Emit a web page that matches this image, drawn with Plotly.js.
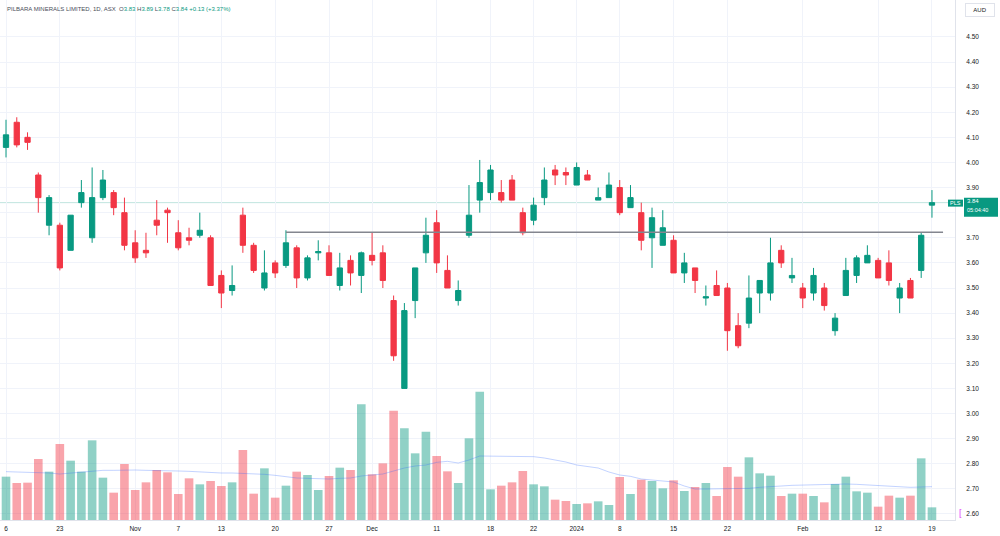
<!DOCTYPE html>
<html>
<head>
<meta charset="utf-8">
<script src="https://cdn.plot.ly/plotly-3.0.1.min.js"></script>
<style>html,body{margin:0;padding:0;background:#fff;}#chart{width:1000px;height:536px;}</style>
</head>
<body>
<div id="chart"></div>
<script>
const dates = ["2023-10-16","2023-10-17","2023-10-18","2023-10-19","2023-10-20","2023-10-23","2023-10-24","2023-10-25","2023-10-26","2023-10-27",
"2023-10-30","2023-10-31","2023-11-01","2023-11-02","2023-11-03","2023-11-06","2023-11-07","2023-11-08","2023-11-09","2023-11-10",
"2023-11-13","2023-11-14","2023-11-15","2023-11-16","2023-11-17","2023-11-20","2023-11-21","2023-11-22","2023-11-23","2023-11-24",
"2023-11-27","2023-11-28","2023-11-29","2023-11-30","2023-12-01","2023-12-04","2023-12-05","2023-12-06","2023-12-07","2023-12-08",
"2023-12-11","2023-12-12","2023-12-13","2023-12-14","2023-12-15","2023-12-18","2023-12-19","2023-12-20","2023-12-21","2023-12-22",
"2023-12-27","2023-12-28","2023-12-29","2024-01-02","2024-01-03","2024-01-04","2024-01-05","2024-01-08","2024-01-09","2024-01-10",
"2024-01-11","2024-01-12","2024-01-15","2024-01-16","2024-01-17","2024-01-18","2024-01-19","2024-01-22","2024-01-23","2024-01-24",
"2024-01-25","2024-01-29","2024-01-30","2024-01-31","2024-02-01","2024-02-02","2024-02-05","2024-02-06","2024-02-07","2024-02-08",
"2024-02-09","2024-02-12","2024-02-13","2024-02-14","2024-02-15","2024-02-16","2024-02-19"];

const openP = [4.06,4.16,4.10,3.95,3.75,3.75,3.65,3.84,3.70,3.86,
3.88,3.80,3.68,3.65,3.77,3.81,3.72,3.70,3.71,3.70,
3.55,3.49,3.79,3.67,3.50,3.60,3.59,3.66,3.54,3.640,
3.64,3.51,3.61,3.55,3.63,3.64,3.45,3.10,3.45,3.64,
3.76,3.57,3.45,3.71,3.85,3.88,3.88,3.93,3.80,3.77,
3.86,3.97,3.96,3.91,3.95,3.85,3.86,3.90,3.82,3.80,
3.70,3.67,3.69,3.56,3.58,3.46,3.51,3.50,3.35,3.36,
3.48,3.48,3.65,3.54,3.50,3.48,3.50,3.33,3.47,3.55,
3.60,3.61,3.60,3.46,3.53,3.57,3.83];
const highP = [4.17,4.18,4.12,3.96,3.87,3.76,3.79,3.93,3.98,3.97,
3.89,3.86,3.73,3.72,3.85,3.82,3.77,3.74,3.80,3.71,
3.57,3.59,3.82,3.68,3.65,3.61,3.73,3.67,3.63,3.69,
3.67,3.64,3.63,3.645,3.72,3.67,3.47,3.44,3.58,3.78,
3.81,3.63,3.53,3.91,4.01,3.99,3.93,3.95,3.82,3.86,
3.98,3.99,3.98,4.00,3.97,3.90,3.96,3.93,3.91,3.84,
3.82,3.81,3.71,3.64,3.58,3.51,3.57,3.52,3.40,3.55,
3.53,3.70,3.67,3.62,3.52,3.58,3.52,3.40,3.62,3.63,
3.67,3.62,3.65,3.52,3.54,3.72,3.89];
const lowP = [4.02,4.06,4.05,3.80,3.71,3.57,3.65,3.82,3.68,3.85,
3.79,3.65,3.60,3.62,3.71,3.68,3.65,3.67,3.70,3.51,
3.42,3.47,3.64,3.56,3.49,3.54,3.58,3.50,3.53,3.61,
3.55,3.49,3.51,3.48,3.59,3.50,3.21,3.10,3.38,3.60,
3.56,3.50,3.43,3.70,3.80,3.85,3.84,3.85,3.71,3.75,
3.83,3.91,3.91,3.91,3.93,3.85,3.86,3.79,3.82,3.65,
3.58,3.67,3.56,3.52,3.48,3.43,3.47,3.25,3.26,3.34,
3.40,3.45,3.58,3.52,3.42,3.45,3.41,3.31,3.47,3.52,
3.60,3.54,3.51,3.40,3.46,3.54,3.78];
const closeP = [4.11,4.07,4.08,3.86,3.86,3.58,3.79,3.88,3.86,3.93,
3.82,3.67,3.62,3.64,3.75,3.80,3.66,3.69,3.73,3.51,
3.48,3.51,3.67,3.57,3.56,3.56,3.68,3.54,3.62,3.645,
3.55,3.58,3.56,3.64,3.61,3.53,3.23,3.41,3.58,3.71,
3.60,3.50,3.49,3.79,3.92,3.97,3.85,3.85,3.72,3.83,
3.93,3.95,3.95,3.98,3.93,3.86,3.91,3.80,3.86,3.69,
3.78,3.74,3.56,3.60,3.53,3.465,3.47,3.33,3.27,3.46,
3.53,3.60,3.60,3.55,3.46,3.55,3.43,3.38,3.57,3.62,
3.63,3.54,3.53,3.50,3.46,3.71,3.84];

// volume, millions of shares (estimated)
const volumeM = [13.0,11.1,11.2,18.3,14.5,22.8,17.8,14.5,23.9,12.7,
8.2,16.8,9.0,11.3,15.0,14.3,7.8,12.5,10.7,11.7,
10.2,11.3,21.0,7.9,15.5,6.7,10.3,14.5,13.5,9.0,
13.2,15.7,15.0,34.7,13.7,17.0,32.8,27.5,20.0,26.5,
19.2,14.6,11.1,24.5,38.5,9.2,10.3,11.3,14.7,10.7,
10.1,6.1,5.7,4.8,5.0,5.6,4.5,12.9,7.8,12.1,
11.7,9.5,11.9,8.7,9.9,11.1,7.2,15.9,13.0,18.8,
14.0,13.3,7.2,7.9,7.9,7.2,5.3,10.8,13.0,8.6,
8.2,4.0,7.3,6.7,7.3,18.5,3.8];
const volumeMA = [14.5,14.4,14.4,14.3,14.1,13.8,14.1,14.4,14.7,14.9,
14.9,15.0,15.0,14.9,14.9,14.7,14.7,14.6,14.4,14.3,
14.1,14.1,14.0,13.8,13.7,13.4,12.9,12.6,12.5,12.3,
12.3,12.5,12.6,13.2,13.5,13.8,14.7,15.6,16.2,16.5,
17.3,17.6,17.1,18.0,19.2,19.2,19.1,19.1,19.1,19.0,
18.6,18.0,17.4,16.5,16.1,15.6,14.4,13.5,13.1,12.3,
12.0,11.6,11.4,10.2,9.3,9.3,9.3,9.3,9.3,9.5,
9.8,10.1,10.2,10.4,10.5,10.5,10.7,10.8,10.8,10.7,
10.5,10.4,10.1,9.9,9.8,9.9,10.0];

const tickDates = ["2023-10-16","2023-10-23","2023-11-01","2023-11-07","2023-11-13","2023-11-20","2023-11-27","2023-12-01","2023-12-11","2023-12-18","2023-12-22","2024-01-02","2024-01-08","2024-01-15","2024-01-22","2024-02-01","2024-02-12","2024-02-19"];
const tickLabels = ["6","23","Nov","7","13","20","27","Dec","11","18","22","2024","8","15","22","Feb","12","19"];

const priceTicks = [2.6,2.7,2.8,2.9,3.0,3.1,3.2,3.3,3.4,3.5,3.6,3.7,3.8,3.9,4.0,4.1,4.2,4.3,4.4,4.5];
const levelPrice = 3.722;
const levelStart = "2023-11-21";
const header = {name: "PILBARA MINERALS LIMITED, 1D, ASX", o: "3.83", h: "3.89", l: "3.78", c: "3.84", chg: "+0.13 (+3.37%)"};
const symbol = "PLS";
const countdown = "05:04:40";

const UP = "#089981", DOWN = "#f23645";
const n = dates.length;
const last = n - 1;
const volColors = closeP.map((c, i) => c >= openP[i] ? "rgba(8,153,129,0.45)" : "rgba(242,54,69,0.45)");

const traces = [
  {type: "bar", x: dates, y: volumeM, yaxis: "y2", marker: {color: volColors, line: {width: 0}}, hoverinfo: "skip"},
  {type: "scatter", mode: "lines", x: dates, y: volumeMA, yaxis: "y2", line: {color: "rgba(41,98,255,0.28)", width: 1}, hoverinfo: "skip"},
  {type: "candlestick", x: dates, open: openP, high: highP, low: lowP, close: closeP,
   increasing: {line: {color: UP, width: 1}, fillcolor: UP},
   decreasing: {line: {color: DOWN, width: 1}, fillcolor: DOWN},
   whiskerwidth: 0, hoverinfo: "skip"}
];

const px = 10.767;
const xStart = -6 / px;
const xEnd = xStart + 955 / px;
const plotW = 955;
const fontFam = "Liberation Sans, Arial, sans-serif";
// the 3.80 label sits under the last-price tag, as in the reference
const priceTickText = priceTicks.map(v => Math.abs(v - 3.8) < 1e-9 ? "" : v.toFixed(2));

const layout = {
  width: 1000, height: 536,
  margin: {l: 0, r: 45, t: 0, b: 16, pad: 0},
  paper_bgcolor: "#ffffff", plot_bgcolor: "#ffffff",
  showlegend: false, hovermode: false, boxgap: 0.3,
  font: {family: fontFam, size: 6.5, color: "#131722"},
  xaxis: {type: "category", range: [xStart, xEnd], rangeslider: {visible: false},
    tickmode: "array", tickvals: tickDates, ticktext: tickLabels,
    showgrid: true, gridcolor: "#f0f3fa", gridwidth: 1,
    showline: true, linecolor: "#e0e3eb", linewidth: 1, mirror: false,
    ticks: "", tickfont: {size: 6.5, color: "#131722"}, ticklabelstandoff: 2, zeroline: false},
  yaxis: {side: "right", range: [2.576, 4.647], tickmode: "array", tickvals: priceTicks,
    ticktext: priceTickText,
    showgrid: true, gridcolor: "#f0f3fa", gridwidth: 1, zeroline: false,
    showline: true, linecolor: "#e0e3eb", linewidth: 1,
    ticks: "", ticklabelstandoff: 9, tickfont: {size: 6.5, color: "#131722"}},
  yaxis2: {overlaying: "y", range: [0, 156], visible: false, fixedrange: true},
  shapes: [
    {type: "line", xref: "paper", x0: 0, x1: 1, yref: "y", y0: closeP[last], y1: closeP[last],
     line: {color: "rgba(8,153,129,0.25)", width: 1}, layer: "below"},
    {type: "line", xref: "x", x0: levelStart, x1: 87.03, yref: "y", y0: levelPrice, y1: levelPrice,
     line: {color: "#83868f", width: 1.5}, layer: "above"},
    {type: "rect", xref: "paper", x0: 948 / plotW, x1: 963 / plotW, yref: "y", ysizemode: "pixel", yanchor: closeP[last],
     y0: -4, y1: 3, fillcolor: UP, line: {width: 0}, layer: "above"},
    {type: "rect", xref: "paper", x0: 964 / plotW, x1: 998 / plotW, yref: "y", ysizemode: "pixel", yanchor: closeP[last],
     y0: -14, y1: 5, fillcolor: UP, line: {width: 0}, layer: "above"}
  ],
  annotations: [
    {xref: "paper", yref: "paper", x: 0, y: 1, xanchor: "left", yanchor: "top", xshift: 5, yshift: -4,
     showarrow: false, align: "left", font: {size: 6, color: "#4a4e59", family: fontFam},
     text: header.name + "  O<span style='color:" + UP + "'>" + header.o + "</span> H<span style='color:" + UP + "'>" + header.h +
           "</span> L<span style='color:" + UP + "'>" + header.l + "</span> C<span style='color:" + UP + "'>" + header.c +
           "</span> <span style='color:" + UP + "'>" + header.chg + "</span>"},
    {xref: "paper", yref: "y", x: 1, y: closeP[last], xanchor: "center", yanchor: "middle", xshift: 0.5, yshift: 0,
     showarrow: false, text: symbol, borderpad: 0, font: {size: 5.5, color: "#ffffff", family: fontFam}},
    {xref: "paper", yref: "y", x: 1, y: closeP[last], xanchor: "left", yanchor: "middle", xshift: 11, yshift: 2,
     showarrow: false, text: closeP[last].toFixed(2), borderpad: 0, font: {size: 6, color: "#ffffff", family: fontFam}},
    {xref: "paper", yref: "y", x: 1, y: closeP[last], xanchor: "left", yanchor: "middle", xshift: 11, yshift: -7.5,
     showarrow: false, text: countdown, borderpad: 0, font: {size: 5.5, color: "#ffffff", family: fontFam}},
    {xref: "paper", yref: "paper", x: 1, y: 1, xanchor: "left", yanchor: "top", xshift: 10, yshift: -3,
     showarrow: false, text: "AUD", font: {size: 6, color: "#131722", family: fontFam},
     bgcolor: "#ffffff", bordercolor: "#e0e3eb", borderwidth: 1, borderpad: 3, width: 22},
    {xref: "paper", yref: "y", x: 1, y: 2.60, xanchor: "left", yanchor: "middle", xshift: 2, yshift: 1,
     showarrow: false, text: "[", font: {size: 9, color: "#e040fb", family: fontFam}}
  ]
};

Plotly.newPlot("chart", traces, layout, {displayModeBar: false, staticPlot: true});
</script>
</body>
</html>
